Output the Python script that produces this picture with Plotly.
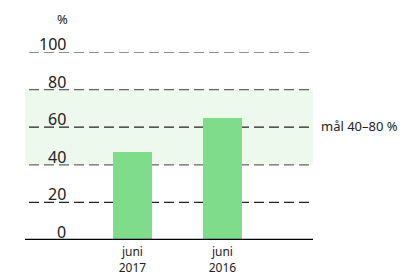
import plotly.graph_objects as go

categories = ["juni<br>2017", "juni<br>2016"]
values = [47, 65]
y_ticks = [0, 20, 40, 60, 80, 100]
target_low, target_high = 40, 80
target_label = "mål 40–80 %"
unit_label = "%"

FONT = "Noto Sans"
OFF = 8  # page body margin
W, H = 406 - OFF, 275 - OFF
PL, PR, PT, PB = 25, 313, 52, 240  # plot area in page pixels
L, R, T, B = PL - OFF, W - (PR - OFF), PT - OFF, H - (PB - OFF)
PW = PR - PL
PH = PB - PT

fig = go.Figure()
fig.add_trace(go.Bar(
    x=list(range(len(categories))), y=values,
    marker=dict(color="#7fdc8a", line=dict(width=0)),
    width=0.43, showlegend=False, hoverinfo="skip",
))

shapes = [dict(type="rect", xref="paper", yref="y", x0=0, x1=1,
               y0=target_low, y1=target_high, fillcolor="#edf9ed",
               line=dict(width=0), layer="below")]
annotations = []
gx0 = (29 - PL) / PW
gx1 = (310 - PL) / PW
for v in y_ticks:
    if v > 0:
        col = "#666666" if v in (target_low, target_high) else "#222222"
        shapes.append(dict(type="line", xref="paper", yref="y", x0=gx0, x1=gx1,
                           y0=v, y1=v, line=dict(color=col, width=1.2, dash="10px,5px"),
                           layer="below"))
    annotations.append(dict(xref="paper", yref="y", x=(68 - PL) / PW, y=v,
                            text=str(v), showarrow=False, xanchor="right",
                            yanchor="bottom", yshift=-5,
                            font=dict(family=FONT, size=16, color="#222")))
shapes.append(dict(type="line", xref="paper", yref="y", x0=0, x1=1, y0=0, y1=0,
                   line=dict(color="#000", width=2.5)))
annotations.append(dict(xref="paper", yref="paper", x=(62 - PL) / PW, y=1 + 33 / PH,
                        text=unit_label, showarrow=False, xanchor="center",
                        yanchor="middle", font=dict(family=FONT, size=13, color="#222")))
annotations.append(dict(xref="paper", yref="y", x=(319 - PL) / PW, y=(target_low + target_high) / 2 + 0.5,
                        text=target_label, showarrow=False, xanchor="left",
                        yanchor="middle", font=dict(family=FONT, size=13, color="#222")))

fig.update_layout(
    width=W, height=H, margin=dict(l=L, r=R, t=T, b=B, pad=0),
    paper_bgcolor="white", plot_bgcolor="rgba(0,0,0,0)",
    shapes=shapes, annotations=annotations, bargap=0,
    xaxis=dict(range=[-1.194, 2.006], tickvals=list(range(len(categories))),
               ticktext=categories, showgrid=False, zeroline=False, showline=False,
               ticks="", automargin=False, ticklabelstandoff=3,
               tickfont=dict(family=FONT, size=12, color="#222")),
    yaxis=dict(range=[0, 100], showgrid=False, zeroline=False, showline=False,
               showticklabels=False, fixedrange=True, automargin=False),
)
fig.write_html("out.html")
